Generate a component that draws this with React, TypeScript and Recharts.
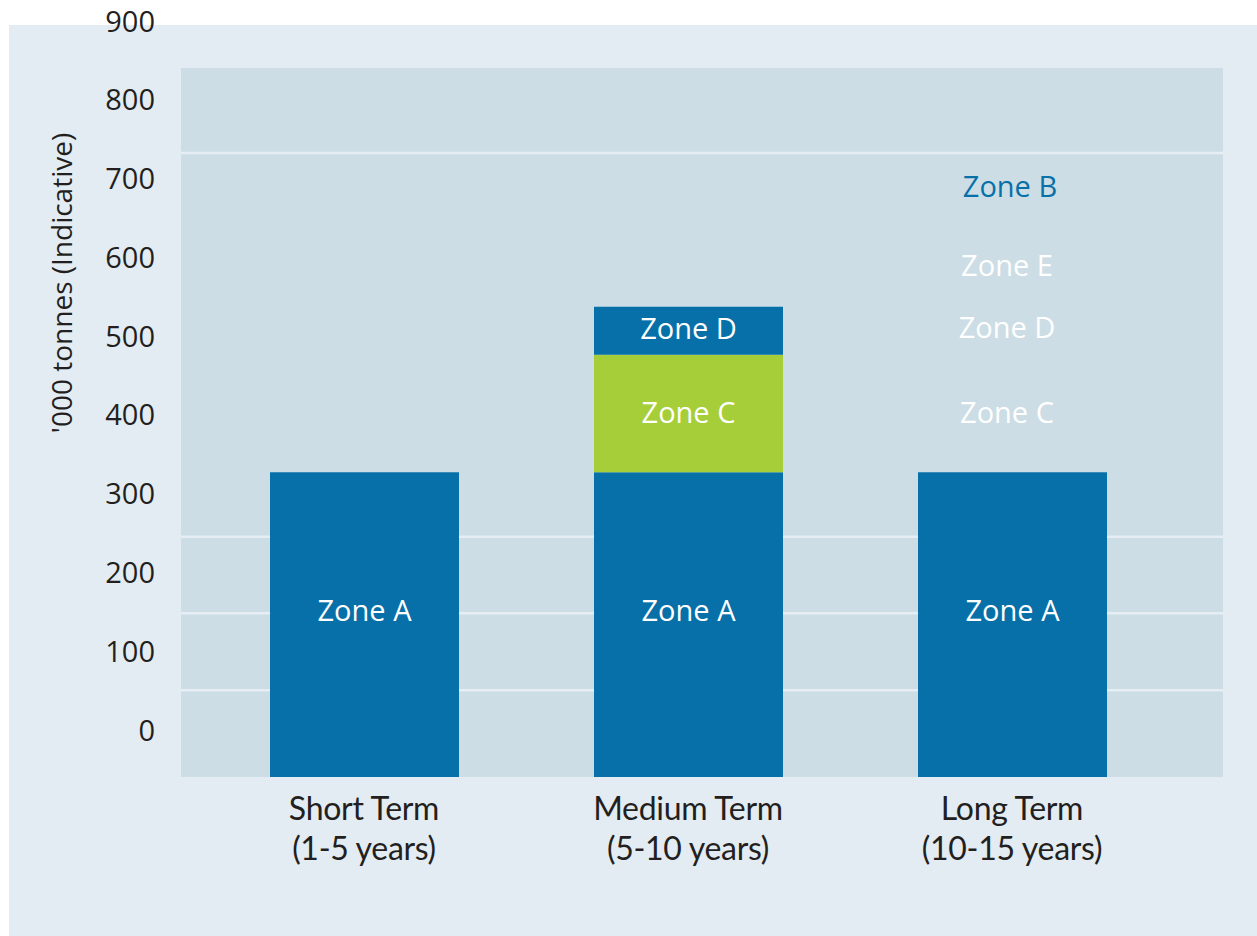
import React from 'react';
import {
  BarChart,
  Bar,
  XAxis,
  YAxis,
  CartesianGrid,
  LabelList,
  Label,
  ReferenceDot,
} from 'recharts';

// categories and their period sub-labels
const categories = ['Short Term', 'Medium Term', 'Long Term'];
const periods = ['(1-5 years)', '(5-10 years)', '(10-15 years)'];

// stacked zone volumes ('000 tonnes)
const zoneA = [387, 387, 387];
const zoneC = [0, 149, 0];
const zoneD = [0, 61, 0];

// zones noted for the long term, without a bar
const futureZones = ['Zone C', 'Zone D', 'Zone E', 'Zone B'];
const futureLevels = [463, 570, 649, 749];

const yTicks = [0, 100, 200, 300, 400, 500, 600, 700, 800, 900];
const gridValues = [110, 208, 305, 792];

const BLUE = '#0770a8';
const GREEN = '#a6ce39';
const OUTER = '#e3ecf2';
const INNER = '#ccdde5';
const GRID = '#e6eef3';
const TEXT = '#231f20';
const SANS = '"Open Sans", "Noto Sans", sans-serif';

const data = categories.map((name, i) => ({
  name,
  period: periods[i],
  A: zoneA[i],
  C: zoneC[i],
  D: zoneD[i],
}));

const YTick = ({ x, y, payload }: any) => (
  <text
    x={x}
    y={y - 48}
    textAnchor="end"
    dominantBaseline="central"
    fill={TEXT}
    fontFamily={SANS}
    fontSize={29}
  >
    {payload.value}
  </text>
);

const XTick = ({ x, y, payload, index }: any) => (
  <text
    x={x}
    y={y}
    textAnchor="middle"
    dominantBaseline="central"
    fill={TEXT}
    fontFamily="Lato, sans-serif"
    fontSize={32}
    letterSpacing={-0.3}
  >
    <tspan x={x} dy={30}>{payload.value}</tspan>
    <tspan x={x} dy={40}>{periods[index]}</tspan>
  </text>
);

const zoneLabel = (text: string, shift: number) => (props: any) => {
  const { x, y, width, height, value } = props;
  if (!value) return null;
  return (
    <text
      x={x + width / 2}
      y={y + height / 2 + shift}
      textAnchor="middle"
      dominantBaseline="central"
      fill="#ffffff"
      fontFamily={SANS}
      fontSize={29}
    >
      {text}
    </text>
  );
};

export default function App() {
  return (
    <div style={{ position: 'absolute', left: 0, top: 0, width: 1257, height: 936, background: '#ffffff' }}>
      <div style={{ position: 'absolute', left: 9, top: 25, width: 1248, height: 911, background: OUTER }} />
      <div style={{ position: 'absolute', left: 0, top: 0 }}>
        <BarChart
          width={1257}
          height={936}
          data={data}
          margin={{ top: 68, right: 34, bottom: 99, left: 81 }}
          barSize={189}
        >
          <CartesianGrid
            vertical={false}
            horizontalValues={gridValues}
            stroke={GRID}
            strokeWidth={2.5}
            fill={INNER}
            fillOpacity={1}
          />
          <XAxis
            dataKey="name"
            axisLine={false}
            tickLine={false}
            tickSize={0}
            tickMargin={0}
            padding={{ left: 21, right: 49 }}
            tick={<XTick />}
            interval={0}
            height={60}
          />
          <YAxis
            type="number"
            domain={[0, 900]}
            ticks={yTicks}
            interval={0}
            width={100}
            axisLine={false}
            tickLine={false}
            tickMargin={20}
            tick={<YTick />}
          >
            <Label
              content={({ viewBox }: any) => {
                const cx = viewBox.x - 20;
                const cy = viewBox.y + 215;
                return (
                  <text
                    x={cx}
                    y={cy}
                    transform={`rotate(-90 ${cx} ${cy})`}
                    textAnchor="middle"
                    dominantBaseline="central"
                    fill={TEXT}
                    fontFamily={SANS}
                    fontSize={28}
                  >
                    '000 tonnes (Indicative)
                  </text>
                );
              }}
            />
          </YAxis>
          <Bar dataKey="A" stackId="z" fill={BLUE} isAnimationActive={false}>
            <LabelList dataKey="A" content={zoneLabel('Zone A', -15)} />
          </Bar>
          <Bar dataKey="C" stackId="z" fill={GREEN} isAnimationActive={false}>
            <LabelList dataKey="C" content={zoneLabel('Zone C', -2)} />
          </Bar>
          <Bar dataKey="D" stackId="z" fill={BLUE} isAnimationActive={false}>
            <LabelList dataKey="D" content={zoneLabel('Zone D', -3)} />
          </Bar>
          {futureZones.map((z, i) => (
            <ReferenceDot
              key={z}
              x="Long Term"
              y={futureLevels[i]}
              r={0}
              stroke="none"
              fill="none"
              ifOverflow="visible"
              label={{
                value: z,
                position: 'center',
                dx: z === 'Zone B' ? -2 : -5,
                fill: z === 'Zone B' ? BLUE : '#ffffff',
                fontFamily: SANS,
                fontSize: 29,
              }}
            />
          ))}
        </BarChart>
      </div>
    </div>
  );
}
